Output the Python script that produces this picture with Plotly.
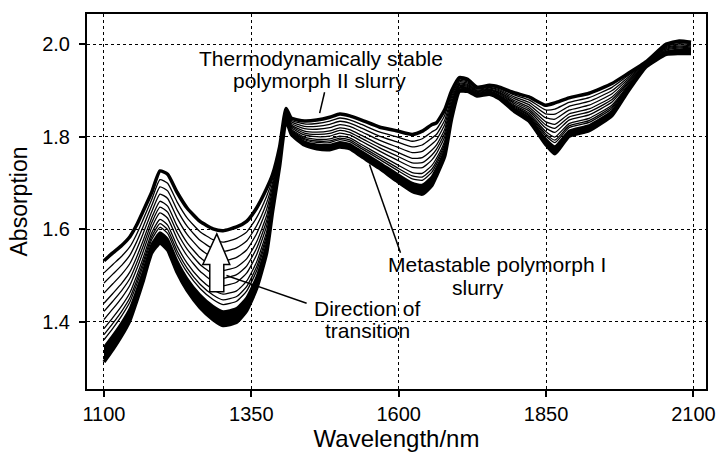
import plotly.graph_objects as go

# NIR spectra of a slurry during the polymorph I -> polymorph II transition
wavelength = [1100, 1115, 1130, 1144, 1155, 1166, 1181, 1195, 1208, 1224, 1241, 1263,
              1285, 1302, 1325, 1342, 1359, 1376, 1386, 1398, 1409, 1418, 1440, 1461,
              1483, 1500, 1517, 1537, 1567, 1596, 1623, 1640, 1656, 1664, 1678, 1690,
              1703, 1717, 1733, 1754, 1771, 1796, 1821, 1849, 1865, 1889, 1923, 1962,
              1986, 2020, 2054, 2076, 2096]

# thermodynamically stable polymorph II slurry (end of transition)
polymorph_ii = [1.532, 1.549, 1.565, 1.584, 1.608, 1.638, 1.680, 1.726, 1.719, 1.680, 1.646, 1.617,
                1.601, 1.597, 1.605, 1.617, 1.646, 1.688, 1.718, 1.778, 1.861, 1.840, 1.834, 1.836,
                1.842, 1.849, 1.845, 1.836, 1.821, 1.813, 1.805, 1.812, 1.826, 1.830, 1.858, 1.900,
                1.928, 1.924, 1.907, 1.911, 1.907, 1.895, 1.886, 1.868, 1.873, 1.884, 1.894, 1.915,
                1.934, 1.962, 2.000, 2.007, 2.004]

# metastable polymorph I slurry (start of transition)
polymorph_i = [1.313, 1.340, 1.370, 1.403, 1.443, 1.486, 1.549, 1.570, 1.555, 1.507, 1.468, 1.431,
               1.405, 1.392, 1.399, 1.424, 1.472, 1.549, 1.638, 1.736, 1.835, 1.805, 1.782, 1.774,
               1.772, 1.778, 1.774, 1.757, 1.732, 1.705, 1.682, 1.676, 1.694, 1.715, 1.757, 1.840,
               1.898, 1.898, 1.888, 1.892, 1.882, 1.855, 1.834, 1.784, 1.763, 1.801, 1.813, 1.846,
               1.892, 1.951, 1.978, 1.980, 1.980]

# fraction converted to polymorph II for each recorded spectrum
conversion = [0.0, 0.02, 0.04, 0.06, 0.08, 0.10, 0.12, 0.15, 0.22, 0.27, 0.33,
              0.42, 0.50, 0.58, 0.68, 0.78, 0.88, 1.0]
band_edge = 0.15  # early spectra overlap into a solid band

x_ticks = [1100, 1350, 1600, 1850, 2100]
y_ticks = [1.4, 1.6, 1.8, 2.0]

FONT = "Liberation Sans, Arial, Helvetica, sans-serif"


def spectrum(frac):
    return [a + frac * (b - a) for a, b in zip(polymorph_i, polymorph_ii)]


fig = go.Figure()
line_kw = dict(shape="spline", smoothing=0.5, color="black")

# solid band of the first spectra
fig.add_trace(go.Scatter(x=wavelength, y=spectrum(0.0), mode="lines",
                         line=dict(width=3.5, **line_kw), hoverinfo="skip"))
fig.add_trace(go.Scatter(x=wavelength, y=spectrum(band_edge), mode="lines",
                         line=dict(width=2, **line_kw), fill="tonexty",
                         fillcolor="black", hoverinfo="skip"))

for frac in conversion:
    if frac in (0.0, 1.0) or frac <= band_edge:
        continue
    fig.add_trace(go.Scatter(x=wavelength, y=spectrum(frac), mode="lines",
                             line=dict(width=1.3, **line_kw), hoverinfo="skip"))

fig.add_trace(go.Scatter(x=wavelength, y=spectrum(1.0), mode="lines",
                         line=dict(width=3.5, **line_kw), hoverinfo="skip"))

# hollow arrow showing the direction of the transition
arrow = ("M 1291.4,1.590 L 1313.4,1.524 L 1303.3,1.524 L 1303.3,1.465 "
         "L 1279.5,1.465 L 1279.5,1.524 L 1267.7,1.524 Z")
fig.add_shape(type="path", path=arrow, xref="x", yref="y",
              line=dict(color="black", width=1.5), fillcolor="white")

# leader lines
for x0, y0, x1, y1 in [(1474.3, 1.896, 1465.9, 1.851),
                       (1550.5, 1.740, 1603.1, 1.549),
                       (1307.8, 1.500, 1443.8, 1.440)]:
    fig.add_shape(type="line", x0=x0, y0=y0, x1=x1, y1=y1, xref="x", yref="y",
                  line=dict(color="black", width=1.5))

labels = [("Thermodynamically stable", 1467.5, 1.969),
          ("polymorph II slurry", 1465.9, 1.921),
          ("Metastable polymorph I", 1767.4, 1.524),
          ("slurry", 1735.2, 1.474),
          ("Direction of", 1545.5, 1.428),
          ("transition", 1546.3, 1.382)]
for text, x, y in labels:
    fig.add_annotation(x=x, y=y, text=text, showarrow=False, xref="x", yref="y",
                       xanchor="center", yanchor="middle",
                       font=dict(family=FONT, size=21, color="black"))

fig.update_layout(
    width=728, height=458,
    margin=dict(l=87, r=21, t=12, b=57),
    paper_bgcolor="white", plot_bgcolor="white",
    showlegend=False,
    font=dict(family=FONT, color="black"),
    xaxis=dict(range=[1071.2, 2121.4], tickvals=x_ticks, ticks="outside", ticklen=6,
               tickwidth=1.5, tickcolor="black", tickfont=dict(size=20),
               showline=True, linecolor="black", linewidth=2, mirror=True,
               showgrid=True, gridcolor="black", gridwidth=1, griddash="dot",
               zeroline=False,
               title=dict(text="Wavelength/nm", font=dict(size=24), standoff=4)),
    yaxis=dict(range=[1.2548, 2.0652], tickvals=y_ticks, tickformat=".1f",
               ticks="outside", ticklen=6, tickwidth=1.5, tickcolor="black",
               tickfont=dict(size=20), ticklabelstandoff=5,
               showline=True, linecolor="black", linewidth=2, mirror=True,
               showgrid=True, gridcolor="black", gridwidth=1, griddash="dot",
               zeroline=False,
               title=dict(text="Absorption", font=dict(size=23), standoff=8)),
)

fig.write_html("out.html")
